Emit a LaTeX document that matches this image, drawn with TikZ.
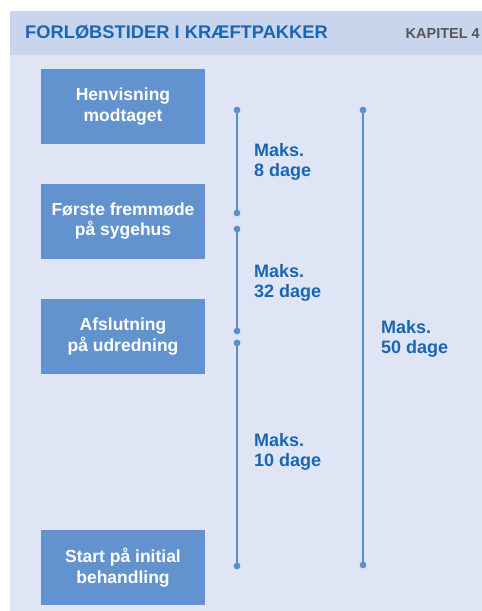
\documentclass[tikz,border=0pt]{standalone}
\usepackage{fontspec}
\setmainfont{Liberation Sans}
\definecolor{headbg}{HTML}{C9D5ED}
\definecolor{bodybg}{HTML}{DFE5F5}
\definecolor{boxfill}{HTML}{6393CE}
\definecolor{txtblue}{HTML}{1866B4}
\definecolor{linecol}{HTML}{5B8ECF}
\definecolor{graytxt}{HTML}{575757}
\begin{document}
\begin{tikzpicture}[x=1pt,y=-1pt,
  stagebox/.style={fill=boxfill,draw=none,minimum width=164pt,minimum height=75pt,inner sep=0pt,
    text=white,font=\bfseries\fontsize{17.5}{20.5}\selectfont,align=center},
  maxlabel/.style={anchor=north west,inner sep=0pt,text=txtblue,
    font=\bfseries\fontsize{18}{20.5}\selectfont,align=left},
  spanline/.style={draw=linecol,line width=1.6pt},
  dotmark/.style={fill=linecol,draw=none}]
\useasboundingbox (0,0) rectangle (482,611);
\fill[white] (0,0) rectangle (482,611);
\fill[bodybg] (10,55) rectangle (482,611);
\fill[headbg] (10,11) rectangle (482,55);
\node[anchor=base west,inner sep=0pt,text=txtblue,font=\bfseries\fontsize{18.3}{20}\selectfont] (title) at (25,38) {FORLØBSTIDER I KRÆFTPAKKER};
\node[anchor=base east,inner sep=0pt,text=graytxt,font=\bfseries\fontsize{14.5}{16}\selectfont] (chap) at (480,38) {KAPITEL 4};
% boxes
\node[stagebox] (b1) at (123,106.5) {Henvisning\\modtaget};
\node[stagebox] (b2) at (123,221) {Første fremmøde\\på sygehus};
\node[stagebox] (b3) at (123,336.5) {Afslutning\\på udredning};
\node[stagebox] (b4) at (123,567.5) {Start på initial\\behandling};
% span coordinates
\coordinate (s1a) at (237,110);
\coordinate (s1b) at (237,213);
\coordinate (s2a) at (237,229);
\coordinate (s2b) at (237,331);
\coordinate (s3a) at (237,343);
\coordinate (s3b) at (237,566);
\coordinate (s4a) at (363,110);
\coordinate (s4b) at (363,565);
\draw[spanline] (s1a) -- (s1b);
\draw[spanline] (s2a) -- (s2b);
\draw[spanline] (s3a) -- (s3b);
\draw[spanline] (s4a) -- (s4b);
\foreach \c in {s1a,s1b,s2a,s2b,s3a,s3b,s4a,s4b} \fill[dotmark] (\c) circle (3.4pt);
% labels
\node[maxlabel] (l1) at (254,143) {Maks.\\8 dage};
\node[maxlabel] (l2) at (254,264) {Maks.\\32 dage};
\node[maxlabel] (l3) at (254,433) {Maks.\\10 dage};
\node[maxlabel] (l4) at (381,320) {Maks.\\50 dage};
\end{tikzpicture}
\end{document}
